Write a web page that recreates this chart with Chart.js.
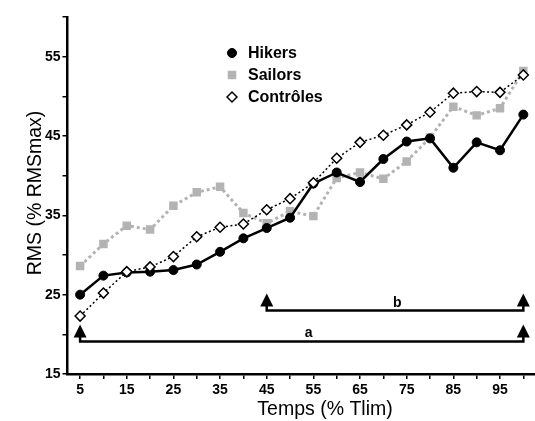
<!DOCTYPE html>
<html>
<head>
<meta charset="utf-8">
<script src="https://cdn.jsdelivr.net/npm/chart.js@4/dist/chart.umd.min.js"></script>
<style>
  body { margin: 0; background: #fff; }
  #wrap { width: 535px; height: 421px; position: relative; }
</style>
</head>
<body>
<div id="wrap"><canvas id="myChart"></canvas></div>
<script>
// time points (% Tlim)
const temps = [5, 10, 15, 20, 25, 30, 35, 40, 45, 50, 55, 60, 65, 70, 75, 80, 85, 90, 95, 100];
const xTickLabels = [5, 15, 25, 35, 45, 55, 65, 75, 85, 95];
const yTickLabels = [15, 25, 35, 45, 55];

// RMS (% RMSmax)
const hikers    = [25.0, 27.4, 27.8, 27.9, 28.1, 28.8, 30.4, 32.1, 33.4, 34.7, 39.0, 40.4, 39.2, 42.1, 44.3, 44.7, 41.0, 44.2, 43.2, 47.7];
const sailors   = [28.6, 31.4, 33.7, 33.2, 36.2, 37.9, 38.6, 35.3, 34.0, 35.5, 34.9, 39.7, 40.4, 39.6, 41.8, 44.8, 48.7, 47.6, 48.5, 53.2];
const controles = [22.3, 25.2, 27.9, 28.5, 29.8, 32.3, 33.5, 33.9, 35.7, 37.1, 39.1, 42.2, 44.2, 45.1, 46.4, 48.0, 50.4, 50.6, 50.5, 52.7];

// significance brackets
const bracketLabels = ['a', 'b'];
const bracketFrom   = [5, 45];
const bracketTo     = [100, 100];
const bracketLevel  = [19.1, 23.0];
const bracketTextX  = [54, 73];

const GREY = '#b3b3b3';
const FONT = "'Liberation Sans', Arial, sans-serif";

function toPoints(arr) {
    return arr.map((v, i) => ({x: temps[i], y: v}));
}

const series = [
    {label: 'Hikers', data: hikers, style: 'circle', radius: 4.5, bg: '#000', border: '#000', bw: 1},
    {label: 'Sailors', data: sailors, style: 'rect', radius: 6, bg: GREY, border: GREY, bw: 0},
    {label: 'Contrôles', data: controles, style: 'rectRot', radius: 5, bg: '#fff', border: '#000', bw: 1.5}
];

// legend + brackets + axis titles
const extras = {
    id: 'extras',
    afterDraw(chart) {
        const ctx = chart.ctx;
        const xs = chart.scales.x, ys = chart.scales.y;
        ctx.save();

        // brackets with arrows
        ctx.strokeStyle = '#000';
        ctx.fillStyle = '#000';
        ctx.lineWidth = 2.5;
        for (let i = 0; i < bracketLabels.length; i++) {
            const x1 = xs.getPixelForValue(bracketFrom[i]);
            const x2 = xs.getPixelForValue(bracketTo[i]);
            const y = ys.getPixelForValue(bracketLevel[i]);
            ctx.beginPath();
            ctx.moveTo(x1, y - 5);
            ctx.lineTo(x1, y);
            ctx.lineTo(x2, y);
            ctx.lineTo(x2, y - 5);
            ctx.stroke();
            for (const x of [x1, x2]) {
                ctx.beginPath();
                ctx.moveTo(x - 6.5, y - 4);
                ctx.lineTo(x + 6.5, y - 4);
                ctx.lineTo(x, y - 17);
                ctx.closePath();
                ctx.fill();
            }
            ctx.font = 'bold 14px ' + FONT;
            ctx.textAlign = 'center';
            ctx.textBaseline = 'alphabetic';
            ctx.fillText(bracketLabels[i], xs.getPixelForValue(bracketTextX[i]), y - 4);
        }

        // legend
        ctx.font = 'bold 16px ' + FONT;
        ctx.textAlign = 'left';
        ctx.textBaseline = 'middle';
        series.forEach((s, i) => {
            const y = 53 + i * 22;
            ctx.fillStyle = s.bg;
            ctx.strokeStyle = s.border;
            ctx.lineWidth = s.bw;
            Chart.helpers.drawPoint(ctx, {pointStyle: s.style, radius: s.radius, rotation: 0, borderWidth: s.bw}, 232, y);
            ctx.fillStyle = '#000';
            ctx.fillText(s.label, 248, y + 1);
        });

        // axis titles
        ctx.font = '19.5px ' + FONT;
        ctx.textAlign = 'center';
        ctx.fillText('Temps (% Tlim)', 325, 410);
        ctx.translate(36, 193);
        ctx.rotate(-Math.PI / 2);
        ctx.fillText('RMS (% RMSmax)', 0, 0);
        ctx.restore();
    }
};

const ctx = document.getElementById('myChart');
const myChart = new Chart(ctx, {
    type: 'line',
    data: {
        datasets: series.map((s, i) => ({
            label: s.label,
            data: toPoints(s.data),
            order: [1, 2, 0][i],
            borderColor: i === 1 ? GREY : '#000',
            borderWidth: [2.5, 3, 1.5][i],
            borderDash: [[], [3, 3], [2, 2.5]][i],
            pointStyle: s.style,
            pointRadius: s.radius,
            pointHoverRadius: s.radius,
            pointBackgroundColor: s.bg,
            pointBorderColor: s.border,
            pointBorderWidth: s.bw,
            tension: 0,
            fill: false
        }))
    },
    options: {
        responsive: true,
        maintainAspectRatio: false,
        animation: false,
        layout: {autoPadding: false, padding: {top: 17, left: 0, right: 0, bottom: 0}},
        plugins: {legend: {display: false}, tooltip: {enabled: false}},
        scales: {
            x: {
                type: 'linear',
                min: 2.3,
                max: 102.5,
                afterBuildTicks: (s) => { s.ticks = temps.map(v => ({value: v})); },
                afterFit: (s) => { s.height = 47; s.paddingLeft = 0; s.paddingRight = 0; },
                border: {display: true, color: '#000', width: 2.5},
                grid: {drawOnChartArea: false, drawTicks: true, tickLength: 5, color: '#000', lineWidth: 1.5},
                ticks: {
                    autoSkip: false,
                    maxRotation: 0,
                    padding: 3,
                    color: '#000',
                    font: {family: FONT, size: 14, weight: 'bold'},
                    callback: (v) => xTickLabels.includes(v) ? String(v) : ''
                }
            },
            y: {
                min: 15,
                max: 60,
                afterBuildTicks: (s) => {
                    const t = [];
                    for (let v = 15; v <= 60; v += 5) t.push({value: v});
                    s.ticks = t;
                },
                afterFit: (s) => { s.width = 67.5; s.paddingTop = 0; s.paddingBottom = 0; },
                border: {display: true, color: '#000', width: 2.5},
                grid: {drawOnChartArea: false, drawTicks: true, tickLength: 5, color: '#000', lineWidth: 1.5},
                ticks: {
                    autoSkip: false,
                    padding: 2,
                    color: '#000',
                    font: {family: FONT, size: 14, weight: 'bold'},
                    callback: (v) => yTickLabels.includes(v) ? String(v) : ''
                }
            }
        }
    },
    plugins: [extras]
});
</script>
</body>
</html>
